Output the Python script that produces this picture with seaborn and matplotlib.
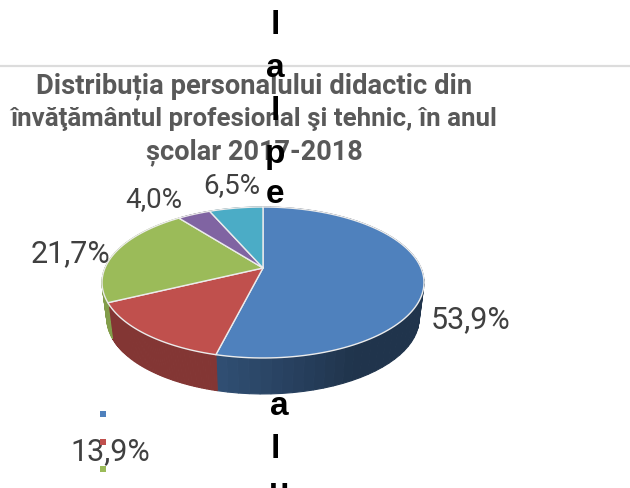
import numpy as np
import matplotlib
matplotlib.use("Agg")
import matplotlib.pyplot as plt
from matplotlib.lines import Line2D
import seaborn as sns

slice_values = [53.9, 13.9, 21.7, 4.0, 6.5]
slice_labels = ["53,9%", "13,9%", "21,7%", "4,0%", "6,5%"]
title_lines = ["Distribuția personalului didactic din",
               "învăţământul profesional şi tehnic, în anul",
               "școlar 2017-2018"]
stray_top = ["l", "a", "l", "p", "e"]
stray_bottom = ["a", "l", "u"]

sns.set_theme(style="white")
plt.rcParams['font.family'] = ['Roboto', 'Liberation Sans', 'DejaVu Sans']
colors = sns.color_palette(["#4f81bd", "#c0504d", "#9bbb59", "#8064a2", "#4bacc6"])
text_grey = "#595959"

# pixel layout of the tilted pie: spokes meet off centre because of the perspective
cx, cy = 263, 268
a, b, k = 72.7, 158, 0.192
depth = 36
bottom_scale = 0.97


def project(theta):
    x, y = np.sin(theta), np.cos(theta)
    w = 1 + k * y
    return cx + b * x / w, cy - a * y / w


fig = plt.figure(figsize=(6.3, 4.88), dpi=100)
ax = fig.add_axes([0, 0, 1, 1])
ax.set_xlim(0, 630)
ax.set_ylim(488, 0)
ax.axis("off")

ax.axhline(65.5, color="#dcdcdc", lw=1.6, zorder=1)

for line, y, size in zip(title_lines, [86, 119, 152], [19.7, 18.6, 19.5]):
    ax.text(254, y, line, ha="center", va="center", fontsize=size, fontweight="bold",
            color=text_grey, zorder=2)

for ch, y in zip(stray_top, [34, 77, 120, 163, 203]):
    ax.text(275, y, ch, ha="center", va="baseline", fontsize=24, fontweight="bold",
            family="Liberation Sans", color="black", zorder=3)
for ch, y, x in zip(stray_bottom, [415, 458, 501], [279, 275, 279]):
    ax.text(x, y, ch, ha="center", va="baseline", fontsize=24, fontweight="bold",
            family="Liberation Sans", color="black", zorder=3)

edges = np.cumsum([0] + slice_values) / sum(slice_values) * 2 * np.pi

# side wall, strip by strip so the shading can run along the rim
wall_shade = [(0.62, 0.40), (0.68, 0.68), (0.85, 0.8), (0.6, 0.6), (0.6, 0.6)]
for i, col in enumerate(colors):
    start, end = edges[i], edges[i + 1]
    steps = np.linspace(start, end, 60)
    for s0, s1 in zip(steps[:-1], steps[1:]):
        x0, y0 = project(s0)
        x1, y1 = project(s1)
        frac = (s0 - start) / (end - start)
        if i == 0:
            # blue goes dark quickly moving right from the front spoke
            frac = min((1 - frac) / 0.23, 1)
        shade = wall_shade[i][0] + (wall_shade[i][1] - wall_shade[i][0]) * frac
        wall = np.array(col) * shade
        bx0 = cx + (x0 - cx) * bottom_scale
        bx1 = cx + (x1 - cx) * bottom_scale
        ax.fill([x0, x1, bx1, bx0], [y0, y1, y1 + depth, y0 + depth],
                facecolor=wall, edgecolor=wall, lw=0.8, zorder=4)

for i, col in enumerate(colors):
    rim = np.linspace(edges[i], edges[i + 1], 120)
    xs, ys = project(rim)
    ax.fill(np.r_[cx, xs], np.r_[cy, ys], facecolor=col, edgecolor="#ececec", lw=1.0,
            joinstyle="round", zorder=5)

label_pos = [(471, 320), (110, 452), (70, 254), (154, 200), (232, 186)]
label_size = [22, 22, 22, 20, 20]
for lab, (x, y), size in zip(slice_labels, label_pos, label_size):
    ax.text(x, y, lab, ha="center", va="center", fontsize=size, color="#404040", zorder=6)

handles = [Line2D([], [], ls="", marker="s", ms=4.6, mew=0, color=c) for c in colors]
leg = ax.legend(handles, [""] * len(handles), loc="upper left", bbox_to_anchor=(103 / 630, 1 - 407 / 488),
                frameon=False, labelspacing=0.48, fontsize=14, handlelength=0, handletextpad=0,
                borderpad=0, borderaxespad=0)
leg.set_zorder(7)

fig.savefig("out.png", dpi=100)
